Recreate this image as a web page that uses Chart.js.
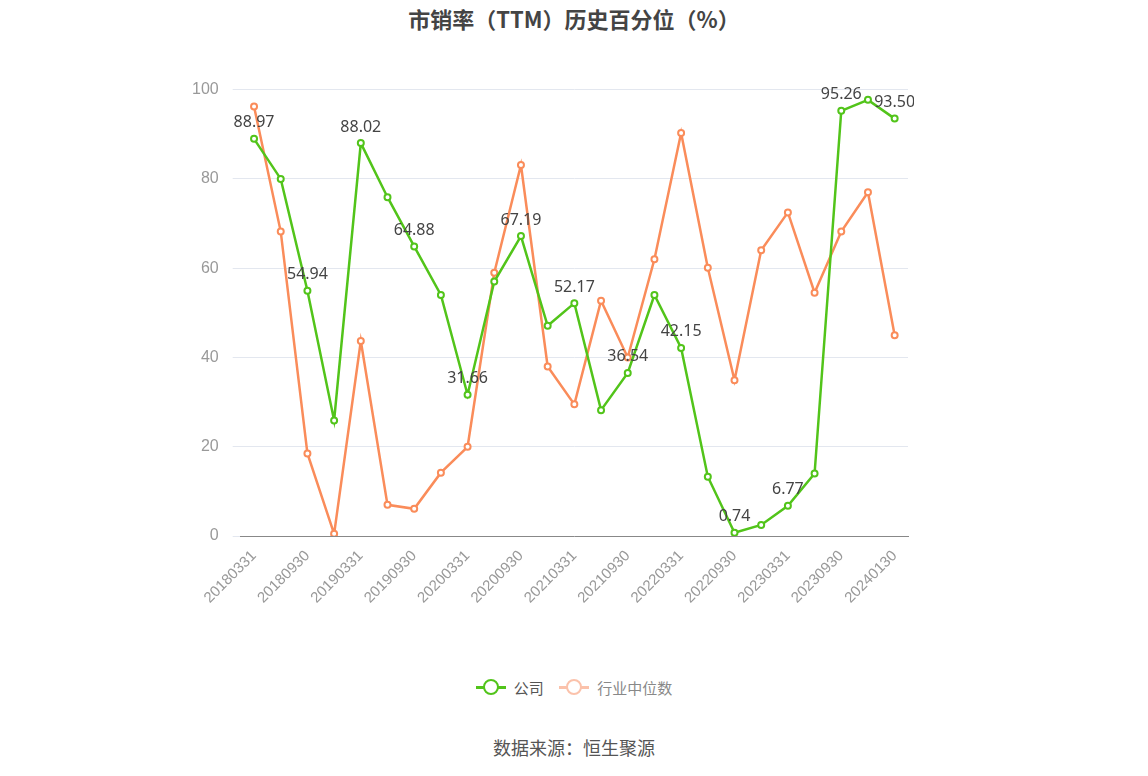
<!DOCTYPE html>
<html><head><meta charset="utf-8">
<script src="https://cdn.jsdelivr.net/npm/chart.js@4"></script>
<style>
body{margin:0;background:#fff;font-family:"Noto Sans CJK SC","Noto Sans",sans-serif;}
#wrap{position:relative;width:1148px;height:776px;}
#title{position:absolute;top:2px;width:100%;text-align:center;font-size:22px;font-weight:bold;color:#444;}
#src{position:absolute;top:734px;width:100%;text-align:center;font-size:18px;color:#555;}
#box{position:absolute;left:178px;top:66px;width:736px;height:544px;}
#legend{position:absolute;top:672px;width:100%;text-align:center;font-size:15px;color:#555;}
.lg{display:inline-flex;align-items:center;margin:0 6px;}
.lg i{display:inline-block;position:relative;width:30px;height:3px;margin-right:8px;}
.lg i:after{content:'';position:absolute;left:7px;top:-7px;width:12px;height:12px;border-radius:50%;background:#fff;border:2.5px solid currentColor;}
</style></head><body>
<div id="wrap">
<div id="title">市销率（TTM）历史百分位（%）</div>
<div id="box"><canvas id="c"></canvas></div>
<div id="legend">
<span class="lg"><i style="background:#52c41a;color:#52c41a"></i>公司</span>
<span class="lg"><i style="background:#fbc2ab;color:#fbc2ab"></i><span style="color:#888">行业中位数</span></span>
</div>
<div id="src">数据来源：恒生聚源</div>
</div>
<script>
const labels = ['20180331','20180630','20180930','20181231','20190331','20190630','20190930','20191231','20200331','20200630','20200930','20201231','20210331','20210630','20210930','20211231','20220331','20220630','20220930','20221231','20230331','20230630','20230930','20231231','20240130'];
const company = [88.97,80.0,54.94,25.9,88.02,75.9,64.88,54.0,31.66,57.0,67.19,47.1,52.17,28.2,36.54,54.0,42.15,13.3,0.74,2.5,6.77,14.0,95.26,97.7,93.50];
const industry = [96.2,68.2,18.5,0.5,43.7,7.0,6.1,14.2,20.0,59.0,83.1,38.0,29.5,52.7,40.0,62.0,90.3,60.1,34.9,64.0,72.5,54.5,68.2,77.0,45.0];
const yTicks = [0,20,40,60,80,100];

const labelPlugin = {
  id: 'valueLabels',
  afterDatasetsDraw(chart) {
    const ctx = chart.ctx;
    const meta = chart.getDatasetMeta(0);
    ctx.save();
    ctx.font = '16px "Noto Sans", sans-serif';
    ctx.fillStyle = '#444';
    ctx.textAlign = 'center';
    ctx.textBaseline = 'bottom';
    meta.data.forEach((p, i) => {
      if (i % 2 === 0) ctx.fillText(company[i].toFixed(2), p.x, p.y - 8);
    });
    ctx.restore();
  }
};

new Chart(document.getElementById('c'), {
  type: 'line',
  data: {
    labels: labels,
    datasets: [
      {label: '公司', data: company, borderColor: '#52c41a', backgroundColor: '#fff',
       borderWidth: 2.5, pointRadius: 3, pointBorderWidth: 2, pointBorderColor: '#52c41a', tension: 0},
      {label: '行业中位数', data: industry, borderColor: '#fa8c5a', backgroundColor: '#fff',
       borderWidth: 2.5, pointRadius: 3, pointBorderWidth: 2, pointBorderColor: '#fa8c5a', tension: 0}
    ]
  },
  options: {
    responsive: true, maintainAspectRatio: false, animation: false,
    layout: {padding: {top: 15, right: 0}},
    plugins: {legend: {display: false}, tooltip: {enabled: false}},
    scales: {
      x: {offset: true, grid: {display: false}, border: {color: '#888'},
        ticks: {autoSkip: false, maxRotation: 45, minRotation: 45, color: '#999', font: {size: 15},
          callback: (v, i) => i % 2 === 0 ? labels[i] : ''}},
      y: {min: 0, max: 100, border: {display: false}, grid: {color: '#e3e7ef'},
        afterBuildTicks: s => { s.ticks = yTicks.map(v => ({value: v})); },
        ticks: {color: '#999', font: {size: 16}, padding: 14}}
    }
  },
  plugins: [labelPlugin]
});
</script>
</body></html>
